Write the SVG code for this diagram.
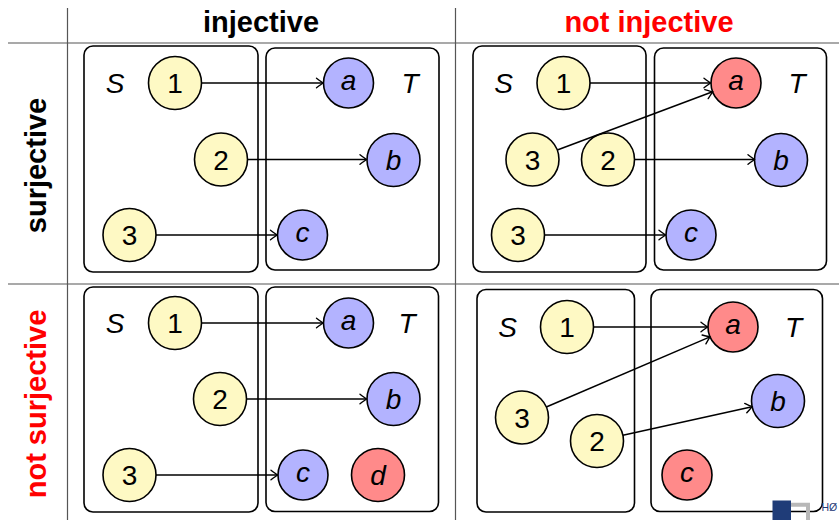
<svg xmlns="http://www.w3.org/2000/svg" width="839" height="520" viewBox="0 0 839 520">
<style>
  text { font-family: "Liberation Sans", Arial, Helvetica, sans-serif; }
  .hdr { font-size: 29px; font-weight: bold; text-anchor: middle; }
  .red { fill: #ff0000; }
  .grid { stroke: #555; stroke-width: 1.2; }
  .box { fill: none; stroke: #000; stroke-width: 1.6; }
  .nd circle { stroke: #000; stroke-width: 1.6; }
  .y { fill: #fef9c4; }
  .b { fill: #b3b3ff; }
  .r { fill: #ff8a8a; }
  .lbl { font-size: 28px; text-anchor: middle; }
  .it { font-style: italic; }
  .edge { stroke: #000; stroke-width: 1.5; fill: none; marker-end: url(#arr); }
</style>
<defs>
  <marker id="arr" markerUnits="userSpaceOnUse" markerWidth="14" markerHeight="14" refX="0" refY="0" viewBox="-8 -7 10 14" orient="auto" overflow="visible">
    <path d="M -6.5,-4.8 Q -1.5,-1 0,0 Q -1.5,1 -6.5,4.8" fill="none" stroke="#000" stroke-width="1.4" stroke-linecap="round"/>
  </marker>
</defs>

<g id="grid">
  <line class="grid" x1="8" y1="43" x2="839" y2="43"/>
  <line class="grid" x1="8" y1="284" x2="839" y2="284"/>
  <line class="grid" x1="67.5" y1="8" x2="67.5" y2="520"/>
  <line class="grid" x1="455.5" y1="8" x2="455.5" y2="520"/>
</g>

<g id="headers">
  <text class="hdr" x="261" y="32">injective</text>
  <text class="hdr red" x="649" y="32">not injective</text>
  <text class="hdr" transform="translate(45.5,165.5) rotate(-90)">surjective</text>
  <text class="hdr red" transform="translate(45.5,404) rotate(-90)">not surjective</text>
</g>

<!-- Panel 1: injective & surjective -->
<g id="p1">
  <rect class="box" x="84" y="46" width="174" height="226" rx="9"/>
  <rect class="box" x="266" y="48" width="173" height="222" rx="9"/>
  <text class="lbl it" x="115" y="93">S</text>
  <text class="lbl it" x="410" y="93">T</text>
  <g id="p1-n1" class="nd"><circle class="y" cx="175" cy="83" r="26.5"/><text class="lbl" x="175" y="93">1</text></g>
  <g id="p1-n2" class="nd"><circle class="y" cx="221" cy="159.5" r="26.5"/><text class="lbl" x="221" y="169.5">2</text></g>
  <g id="p1-n3" class="nd"><circle class="y" cx="129.5" cy="235" r="26.5"/><text class="lbl" x="129.5" y="245">3</text></g>
  <g id="p1-na" class="nd"><circle class="b" cx="348.5" cy="83" r="25"/><text class="lbl it" x="348.5" y="90">a</text></g>
  <g id="p1-nb" class="nd"><circle class="b" cx="393.5" cy="160" r="26.5"/><text class="lbl it" x="393.5" y="170">b</text></g>
  <g id="p1-nc" class="nd"><circle class="b" cx="302.5" cy="235" r="25"/><text class="lbl it" x="302.5" y="242">c</text></g>
</g>

<!-- Panel 2: not injective & surjective -->
<g id="p2">
  <rect class="box" x="473" y="46" width="173" height="226" rx="9"/>
  <rect class="box" x="654.5" y="48" width="172" height="222" rx="9"/>
  <text class="lbl it" x="503.5" y="93">S</text>
  <text class="lbl it" x="797" y="93">T</text>
  <g id="p2-n1" class="nd"><circle class="y" cx="563.5" cy="83" r="26.5"/><text class="lbl" x="563.5" y="93">1</text></g>
  <g id="p2-n3a" class="nd"><circle class="y" cx="532.5" cy="159.5" r="26.5"/><text class="lbl" x="532.5" y="169.5">3</text></g>
  <g id="p2-n2" class="nd"><circle class="y" cx="608" cy="159.5" r="26.5"/><text class="lbl" x="608" y="169.5">2</text></g>
  <g id="p2-n3" class="nd"><circle class="y" cx="518" cy="235" r="26.5"/><text class="lbl" x="518" y="245">3</text></g>
  <g id="p2-na" class="nd"><circle class="r" cx="736" cy="83" r="25"/><text class="lbl it" x="736" y="90">a</text></g>
  <g id="p2-nb" class="nd"><circle class="b" cx="781" cy="160" r="26.5"/><text class="lbl it" x="781" y="170">b</text></g>
  <g id="p2-nc" class="nd"><circle class="b" cx="691" cy="235" r="25"/><text class="lbl it" x="691" y="242">c</text></g>
</g>

<!-- Panel 3: injective & not surjective -->
<g id="p3">
  <rect class="box" x="84" y="287" width="174" height="225" rx="9"/>
  <rect class="box" x="266" y="287" width="172.5" height="224.5" rx="9"/>
  <text class="lbl it" x="115" y="333">S</text>
  <text class="lbl it" x="407" y="333">T</text>
  <g id="p3-n1" class="nd"><circle class="y" cx="175" cy="323" r="26.5"/><text class="lbl" x="175" y="333">1</text></g>
  <g id="p3-n2" class="nd"><circle class="y" cx="220" cy="399" r="26.5"/><text class="lbl" x="220" y="409">2</text></g>
  <g id="p3-n3" class="nd"><circle class="y" cx="129.5" cy="475" r="26.5"/><text class="lbl" x="129.5" y="485">3</text></g>
  <g id="p3-na" class="nd"><circle class="b" cx="348.5" cy="323" r="25"/><text class="lbl it" x="348.5" y="330">a</text></g>
  <g id="p3-nb" class="nd"><circle class="b" cx="393.5" cy="399" r="26.5"/><text class="lbl it" x="393.5" y="409">b</text></g>
  <g id="p3-nc" class="nd"><circle class="b" cx="303" cy="475" r="25"/><text class="lbl it" x="303" y="482">c</text></g>
  <g id="p3-nd" class="nd"><circle class="r" cx="378" cy="475" r="26.5"/><text class="lbl it" x="378" y="485">d</text></g>
</g>

<!-- Panel 4: not injective & not surjective -->
<g id="p4">
  <rect class="box" x="477" y="289.5" width="157.5" height="222.5" rx="9"/>
  <rect class="box" x="651" y="289.5" width="171.5" height="222" rx="9"/>
  <text class="lbl it" x="507.5" y="337">S</text>
  <text class="lbl it" x="793.5" y="337">T</text>
  <g id="p4-n1" class="nd"><circle class="y" cx="567" cy="327" r="26.5"/><text class="lbl" x="567" y="337">1</text></g>
  <g id="p4-n3" class="nd"><circle class="y" cx="522" cy="417.5" r="26.5"/><text class="lbl" x="522" y="427.5">3</text></g>
  <g id="p4-n2" class="nd"><circle class="y" cx="597" cy="441" r="26.5"/><text class="lbl" x="597" y="451">2</text></g>
  <g id="p4-na" class="nd"><circle class="r" cx="733" cy="327" r="25"/><text class="lbl it" x="733" y="334">a</text></g>
  <g id="p4-nb" class="nd"><circle class="b" cx="778" cy="401" r="26.5"/><text class="lbl it" x="778" y="411">b</text></g>
  <g id="p4-nc" class="nd"><circle class="r" cx="687" cy="475" r="25"/><text class="lbl it" x="687" y="482">c</text></g>
</g>

<g id="connectors">
  <line class="edge" x1="201.5" y1="83" x2="323" y2="83"/>
  <line class="edge" x1="247.5" y1="159.5" x2="366.5" y2="159.5"/>
  <line class="edge" x1="156" y1="235" x2="277" y2="235"/>

  <line class="edge" x1="590" y1="83" x2="710.5" y2="83"/>
  <line class="edge" x1="557.3" y1="150" x2="712.6" y2="91.8"/>
  <line class="edge" x1="634.5" y1="159.5" x2="754.5" y2="159.5"/>
  <line class="edge" x1="544.5" y1="235" x2="665.5" y2="235"/>

  <line class="edge" x1="201.5" y1="323" x2="323" y2="323"/>
  <line class="edge" x1="246.5" y1="399" x2="366.5" y2="399"/>
  <line class="edge" x1="156" y1="475" x2="277.5" y2="475"/>

  <line class="edge" x1="593.5" y1="327" x2="707.5" y2="327"/>
  <line class="edge" x1="546.3" y1="407" x2="710" y2="336.9"/>
  <line class="edge" x1="622.9" y1="435.3" x2="752.1" y2="406.7"/>
</g>

<g id="logo">
  <rect x="772.5" y="500.5" width="18.5" height="20" fill="#1f3c78"/>
  <path d="M791,504.7 H808 V520" fill="none" stroke="#b8b8b8" stroke-width="4"/>
  <text x="821.5" y="511" font-size="10.5" fill="#1f3c78">HØ</text>
</g>
</svg>
